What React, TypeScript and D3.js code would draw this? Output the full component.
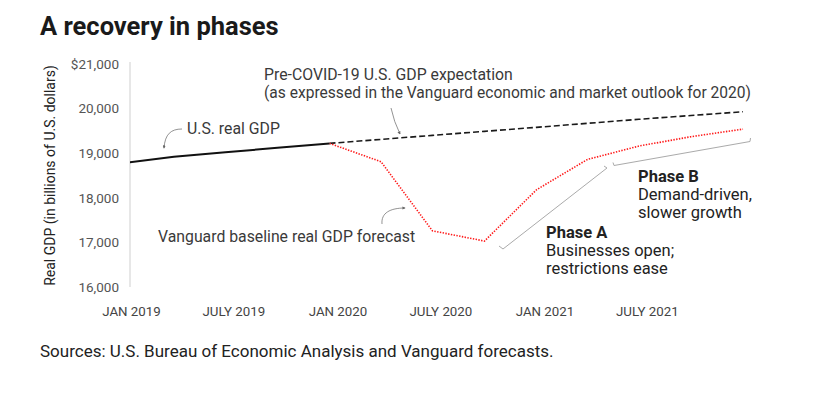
import React, { useRef, useEffect } from "react";
import * as d3 from "d3";

// quarterly points (BEA actuals, then Vanguard forecast and pre-COVID expectation)
const actualDates = ["2019-01-01", "2019-04-01", "2019-07-01", "2019-10-01", "2020-01-01"];
const actualGdp = [18780, 18920, 19020, 19120, 19220];

const forecastDates = [
  "2020-01-01", "2020-04-01", "2020-07-01", "2020-10-01", "2021-01-01",
  "2021-04-01", "2021-07-01", "2021-10-01", "2022-01-01",
];
const baselineGdp = [19220, 18810, 17260, 17030, 18180, 18860, 19160, 19370, 19540];
const preCovidGdp = [19220, 19310, 19400, 19490, 19580, 19670, 19760, 19845, 19930];

const yTicks = [16000, 17000, 18000, 19000, 20000, 21000];
const xTickDates = ["2019-01-16", "2019-07-16", "2020-01-16", "2020-07-16", "2021-01-16", "2021-07-16"];
const xTickLabels = ["JAN 2019", "JULY 2019", "JAN 2020", "JULY 2020", "JAN 2021", "JULY 2021"];

const FONT = "Roboto, 'Liberation Sans', sans-serif";

const App = () => {
  const ref = useRef<SVGSVGElement>(null);
  const width = 819;
  const height = 396;

  useEffect(() => {
    const svg = d3.select(ref.current);
    svg.selectAll("*").remove();
    svg.attr("width", width).attr("height", height).style("font-family", FONT);

    const parse = d3.timeParse("%Y-%m-%d");
    const plotLeft = 130;

    const x = d3
      .scaleTime()
      .domain([parse("2019-01-01")!, parse("2022-01-01")!])
      .range([123, 743]);
    const y = d3.scaleLinear().domain([16000, 21000]).range([287, 64]);

    const defs = svg.append("defs");
    defs
      .append("clipPath")
      .attr("id", "plot-clip")
      .append("rect")
      .attr("x", plotLeft)
      .attr("y", 0)
      .attr("width", width - plotLeft)
      .attr("height", height);
    defs
      .append("marker")
      .attr("id", "arrow")
      .attr("viewBox", "0 0 10 10")
      .attr("refX", 8)
      .attr("refY", 5)
      .attr("markerWidth", 4)
      .attr("markerHeight", 4)
      .attr("orient", "auto")
      .append("path")
      .attr("d", "M0,0 L10,5 L0,10 z")
      .attr("fill", "#666");

    // title
    svg
      .append("text")
      .attr("x", 40)
      .attr("y", 35)
      .text("A recovery in phases")
      .style("font-size", "25.5px")
      .style("font-weight", 700)
      .attr("fill", "#1a1a1a");

    // y axis
    svg
      .append("line")
      .attr("x1", plotLeft)
      .attr("x2", plotLeft)
      .attr("y1", y(21000) - 2)
      .attr("y2", y(16000))
      .attr("stroke", "#cfcfcf")
      .attr("stroke-width", 1);

    svg
      .append("g")
      .selectAll("text")
      .data(yTicks)
      .enter()
      .append("text")
      .attr("x", 119)
      .attr("y", (d) => y(d))
      .attr("dy", "0.35em")
      .attr("text-anchor", "end")
      .text((d) => (d === 21000 ? "$" : "") + d3.format(",")(d))
      .style("font-size", "13.5px")
      .attr("fill", "#555");

    svg
      .append("text")
      .attr("transform", `translate(55,${(y(21000) + y(16000)) / 2}) rotate(-90)`)
      .attr("text-anchor", "middle")
      .text("Real GDP (in billions of U.S. dollars)")
      .style("font-size", "14px")
      .attr("fill", "#222");

    // x axis labels
    svg
      .append("g")
      .selectAll("text")
      .data(xTickDates)
      .enter()
      .append("text")
      .attr("x", (d) => x(parse(d)!))
      .attr("y", 316)
      .attr("text-anchor", "middle")
      .text((d, i) => xTickLabels[i])
      .style("font-size", "13.3px")
      .attr("fill", "#444");

    const plot = svg.append("g").attr("clip-path", "url(#plot-clip)");

    const line = d3
      .line<[Date, number]>()
      .x((d) => x(d[0]))
      .y((d) => y(d[1]));

    const actual = actualDates.map((d, i) => [parse(d)!, actualGdp[i]] as [Date, number]);
    const baseline = forecastDates.map((d, i) => [parse(d)!, baselineGdp[i]] as [Date, number]);
    const preCovid = forecastDates.map((d, i) => [parse(d)!, preCovidGdp[i]] as [Date, number]);

    plot
      .append("path")
      .attr("d", line(preCovid))
      .attr("fill", "none")
      .attr("stroke", "#1a1a1a")
      .attr("stroke-width", 1.6)
      .attr("stroke-dasharray", "6,3");

    plot
      .append("path")
      .attr("d", line(baseline))
      .attr("fill", "none")
      .attr("stroke", "#ff1a1a")
      .attr("stroke-width", 1.6)
      .attr("stroke-dasharray", "1.4,1.4");

    plot
      .append("path")
      .attr("d", line(actual))
      .attr("fill", "none")
      .attr("stroke", "#111")
      .attr("stroke-width", 2);

    // annotations
    const note = svg.append("g").style("font-size", "15.8px").attr("fill", "#3a3a3a");
    note.append("text").attr("x", 187).attr("y", 134).text("U.S. real GDP");
    note.append("text").attr("x", 264).attr("y", 80).text("Pre-COVID-19 U.S. GDP expectation");
    note
      .append("text")
      .attr("x", 264)
      .attr("y", 98)
      .attr("textLength", 487)
      .attr("lengthAdjust", "spacingAndGlyphs")
      .text("(as expressed in the Vanguard economic and market outlook for 2020)");
    note.append("text").attr("x", 158).attr("y", 242).text("Vanguard baseline real GDP forecast");

    const arrows = [
      "M182,129 C171,129 165,134 164,148",
      "M391,108 Q394,122 400,134",
      "M382,224 C381,213 390,208 405,208",
    ];
    svg
      .append("g")
      .selectAll("path")
      .data(arrows)
      .enter()
      .append("path")
      .attr("d", (d) => d)
      .attr("fill", "none")
      .attr("stroke", "#777")
      .attr("stroke-width", 0.8)
      .attr("marker-end", "url(#arrow)");

    const brackets = [
      "M499,246 L503,249 L607,168 L604,166",
      "M613,162.5 L614,165.5 L750,141.5 L750.5,138",
    ];
    svg
      .append("g")
      .selectAll("path")
      .data(brackets)
      .enter()
      .append("path")
      .attr("d", (d) => d)
      .attr("fill", "none")
      .attr("stroke", "#aaa")
      .attr("stroke-width", 1);

    const phase = svg.append("g").style("font-size", "16.5px").attr("fill", "#222");
    phase.append("text").attr("x", 638).attr("y", 182).style("font-weight", 700).text("Phase B");
    phase.append("text").attr("x", 638).attr("y", 200).text("Demand-driven,");
    phase.append("text").attr("x", 638).attr("y", 218).text("slower growth");
    phase.append("text").attr("x", 546).attr("y", 238).style("font-weight", 700).text("Phase A");
    phase.append("text").attr("x", 546).attr("y", 256).text("Businesses open;");
    phase.append("text").attr("x", 546).attr("y", 274).text("restrictions ease");

    // source
    svg
      .append("text")
      .attr("x", 40)
      .attr("y", 357)
      .text("Sources: U.S. Bureau of Economic Analysis and Vanguard forecasts.")
      .style("font-size", "17px")
      .attr("fill", "#222");
  }, []);

  return <svg ref={ref} style={{ position: "absolute", left: 0, top: 0 }}></svg>;
};

export default App;
